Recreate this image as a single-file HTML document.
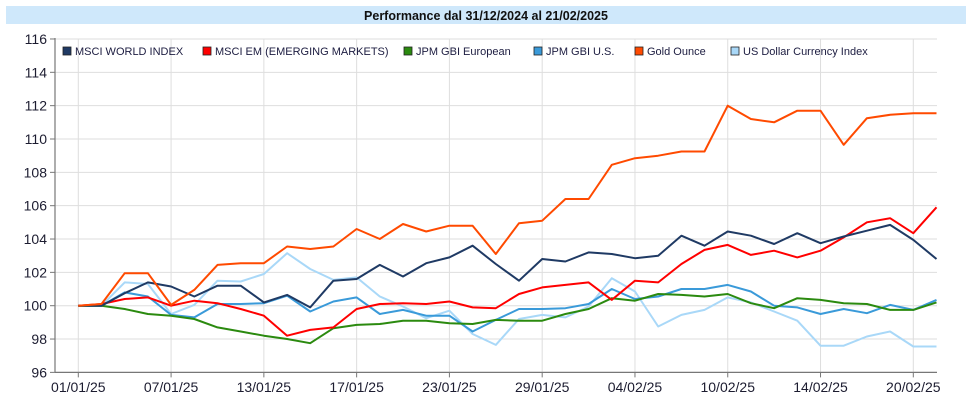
<!DOCTYPE html>
<html><head><meta charset="utf-8"><style>
body{margin:0;background:#fff;}
svg{display:block;font-family:"Liberation Sans",Arial,sans-serif;}
</style></head><body>
<svg id="chart" width="972" height="406" viewBox="0 0 972 406">
<rect x="6" y="6" width="960" height="18" fill="#cfe8fb"/>
<text x="486" y="20" text-anchor="middle" font-size="12.5" font-weight="bold" fill="#111">Performance dal 31/12/2024 al 21/02/2025</text>
<g id="grid"></g>
<g id="axes"></g>
<g id="series"></g>
<g id="legend"></g>
</svg>
<script>
const dates = ["01/01/25","02/01","03/01","06/01","07/01/25","08/01","09/01","10/01","13/01/25","14/01","15/01","16/01","17/01/25","20/01","21/01","22/01","23/01/25","24/01","27/01","28/01","29/01/25","30/01","31/01","03/02","04/02/25","05/02","06/02","07/02","10/02/25","11/02","12/02","13/02","14/02/25","17/02","18/02","19/02","20/02/25","21/02"];
const xTickLabels = ["01/01/25","07/01/25","13/01/25","17/01/25","23/01/25","29/01/25","04/02/25","10/02/25","14/02/25","20/02/25"];
const yTicks = [96,98,100,102,104,106,108,110,112,114,116];
const seriesNames = ["MSCI WORLD INDEX","MSCI EM (EMERGING MARKETS)","JPM GBI European","JPM GBI U.S.","Gold Ounce","US Dollar Currency Index"];
const worldValues = [100,100,100.75,101.4,101.15,100.55,101.2,101.2,100.2,100.65,99.9,101.5,101.6,102.45,101.75,102.55,102.9,103.6,102.5,101.5,102.8,102.65,103.2,103.1,102.85,103.0,104.2,103.6,104.45,104.2,103.7,104.35,103.75,104.15,104.5,104.85,103.95,102.8];
const emValues = [100,100.1,100.4,100.5,100,100.3,100.15,99.8,99.4,98.2,98.55,98.7,99.8,100.1,100.15,100.1,100.25,99.9,99.85,100.7,101.1,101.25,101.4,100.35,101.5,101.4,102.5,103.35,103.65,103.05,103.3,102.9,103.3,104.1,105.0,105.25,104.35,105.9];
const gbiEuValues = [100,100,99.8,99.5,99.4,99.2,98.7,98.45,98.2,98.0,97.75,98.65,98.85,98.9,99.1,99.1,98.95,98.9,99.15,99.1,99.1,99.5,99.8,100.45,100.3,100.7,100.65,100.55,100.7,100.15,99.85,100.45,100.35,100.15,100.1,99.75,99.75,100.2];
const gbiUsValues = [100,100,100.8,100.55,99.45,99.3,100.1,100.1,100.15,100.6,99.65,100.25,100.5,99.5,99.75,99.4,99.4,98.45,99.15,99.8,99.8,99.85,100.1,101.0,100.4,100.55,101.0,101.0,101.25,100.85,100.0,99.9,99.5,99.8,99.55,100.05,99.75,100.35];
const goldValues = [100,100.1,101.95,101.95,100.05,100.95,102.45,102.55,102.55,103.55,103.4,103.55,104.6,104.0,104.9,104.45,104.8,104.8,103.1,104.95,105.1,106.4,106.4,108.45,108.85,109.0,109.25,109.25,112.0,111.2,111.0,111.7,111.7,109.65,111.25,111.45,111.55,111.55];
const usdValues = [100,100,101.4,101.3,99.5,100.05,101.5,101.45,101.9,103.15,102.2,101.55,101.7,100.55,99.95,99.25,99.7,98.3,97.65,99.2,99.45,99.3,99.95,101.65,100.85,98.75,99.45,99.75,100.5,100.2,99.65,99.1,97.6,97.6,98.15,98.45,97.55,97.55];
const colors = ["#1f3a64","#ff0000","#2b8a0f","#3a9ad9","#ff4a00","#a9d8f8"];
const allValues = [worldValues,emValues,gbiEuValues,gbiUsValues,goldValues,usdValues];

const NS="http://www.w3.org/2000/svg";
const X0=78.3, X1=913.3, PL=55, PR=937, Y100=305.7, PPU=16.67;
function xScale(i){return X0+i*(X1-X0)/36;}
function yScale(v){return Y100-(v-100)*PPU;}
function mk(tag,attrs,parent){const e=document.createElementNS(NS,tag);for(const k in attrs)e.setAttribute(k,attrs[k]);parent.appendChild(e);return e;}
const grid=document.getElementById('grid'),axes=document.getElementById('axes'),ser=document.getElementById('series'),leg=document.getElementById('legend');
yTicks.forEach(t=>{
  const y=yScale(t);
  if(t>96){const l=mk('line',{x1:PL,x2:PR,y1:y,y2:y,stroke:'#dedede','stroke-width':1},grid);
  
  }
  const tk=mk('line',{x1:PL-5,x2:PL,y1:y,y2:y,stroke:'#777'},axes);
  
  
  const tx=mk('text',{x:PL-8,y:y+5,'text-anchor':'end','font-size':14,fill:'#1c1c30'},axes);
  tx.textContent=t;
  
  
});
xTickLabels.forEach((lab,k)=>{
  const x=xScale(k*4);
  const g=mk('line',{x1:x,x2:x,y1:yScale(116),y2:yScale(96),stroke:'#dedede'},grid);
  
  
  const tk=mk('line',{x1:x,x2:x,y1:yScale(96),y2:yScale(96)+5,stroke:'#777'},axes);
  
  
  const tx=mk('text',{x:x,y:392,'text-anchor':'middle','font-size':14,fill:'#1c1c30'},axes);
  tx.textContent=lab;
  
  
});
const ya=mk('line',{x1:PL,x2:PL,y1:yScale(116)-1,y2:yScale(96),stroke:'#777','stroke-width':1.2},axes);


const xa=mk('line',{x1:PL,x2:PR,y1:yScale(96),y2:yScale(96),stroke:'#777','stroke-width':1.2},axes);


const order=[5,3,2,1,0,4];
order.forEach(s=>{
  const pts=allValues[s].map((v,i)=>xScale(i).toFixed(1)+','+yScale(v).toFixed(1)).join(' ');
  const p=mk('polyline',{points:pts,fill:'none',stroke:colors[s],'stroke-width':2,'stroke-linejoin':'round'},ser);
  
  
});
const legX=[63,203,404,534,635,731];
seriesNames.forEach((n,s)=>{
  const g=mk('g',{},leg);
  
  
  mk('rect',{x:legX[s],y:47,width:8,height:8,fill:colors[s],stroke:'#222','stroke-width':0.8},g);
  const t=mk('text',{x:legX[s]+12,y:55,'font-size':11,fill:'#1c1c40'},g);
  t.textContent=n;
});
</script>
</body></html>
